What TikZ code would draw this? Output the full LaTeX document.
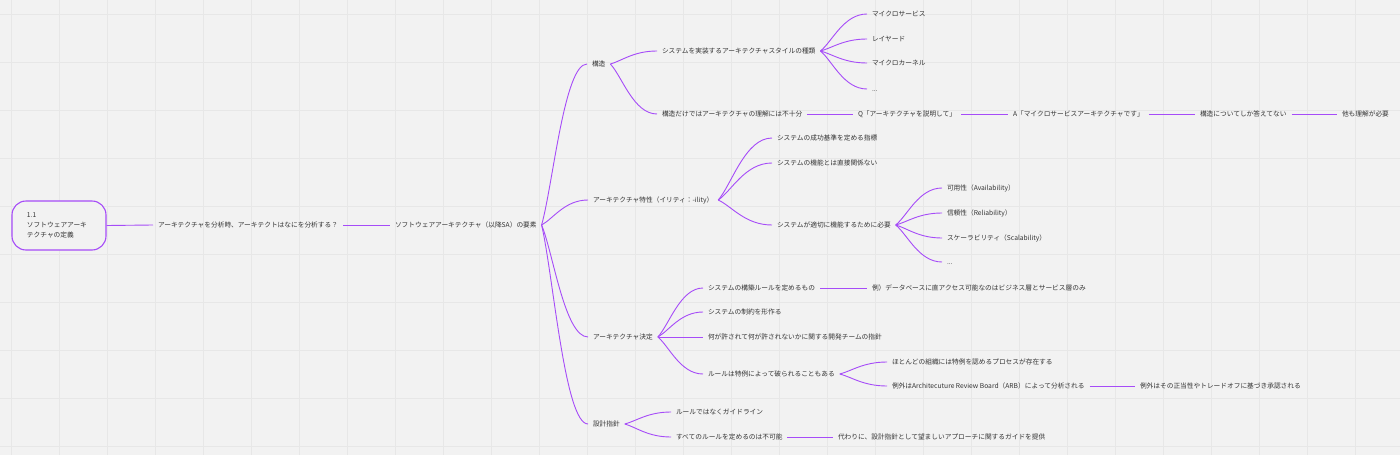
\documentclass[tikz,border=0pt]{standalone}
\usepackage{fontspec}
\setmainfont{Noto Sans CJK JP}
\usetikzlibrary{calc}
\definecolor{bg}{HTML}{F2F2F2}
\definecolor{gridc}{HTML}{E7E7E7}
\definecolor{purp}{HTML}{A64CF8}
\definecolor{txt}{HTML}{333333}
\tikzset{
  lbl/.style={anchor=west, xshift=-5pt, inner sep=0pt, outer xsep=5pt, outer ysep=0pt, text=txt,
    font=\fontsize{6.7}{8}\selectfont, text height=5.6pt, text depth=1.1pt},
  conn/.style={draw=purp, line width=0.9pt},
  curv/.style={to path={.. controls ($(\tikztostart)!0.25!(\tikztotarget)$) and ($(\tikztotarget)!0.5!(\tikztotarget -| \tikztostart)$) .. (\tikztotarget)}},
  rootbox/.style={draw=purp, line width=1.1pt, rounded corners=14pt, fill=bg,
    minimum width=94pt, minimum height=49pt, text width=64pt, align=left,
    inner xsep=15pt, inner ysep=0pt, text=txt, font=\fontsize{6.7}{10}\selectfont}
}
\begin{document}
\begin{tikzpicture}[x=1pt,y=-1pt]
\fill[bg] (0,0) rectangle (1400,455);
\useasboundingbox (0,0) rectangle (1400,455);
\foreach \k in {0,...,29} {\draw[gridc, line width=0.6pt] ({11+48*\k},0) -- ({11+48*\k},455);}
\foreach \k in {0,...,9} {\draw[gridc, line width=0.6pt] (0,{14+48*\k}) -- (1400,{14+48*\k});}

\node[rootbox] (root) at (59,225.5) {1.1\\ソフトウェアアーキ\\テクチャの定義};
\node[lbl] (n1) at (158,225) {アーキテクチャを分析時、アーキテクトはなにを分析する？};
\node[lbl] (n2) at (395,225) {ソフトウェアアーキテクチャ（以降SA）の要素};

\node[lbl] (a) at (592,64) {構造};
\node[lbl] (a1) at (662,51) {システムを実装するアーキテクチャスタイルの種類};
\node[lbl] (a1a) at (872,14) {マイクロサービス};
\node[lbl] (a1b) at (872,39) {レイヤード};
\node[lbl] (a1c) at (872,63) {マイクロカーネル};
\node[lbl] (a1d) at (872,89) {...};
\node[lbl] (a2) at (662,114) {構造だけではアーキテクチャの理解には不十分};
\node[lbl] (a2a) at (858,114) {Q「アーキテクチャを説明して」};
\node[lbl] (a2b) at (1013,114) {A「マイクロサービスアーキテクチャです」};
\node[lbl] (a2c) at (1200,114) {構造についてしか答えてない};
\node[lbl] (a2d) at (1342,114) {他も理解が必要};

\node[lbl] (b) at (593,200) {アーキテクチャ特性（イリティ：-ility）};
\node[lbl] (b1) at (777,138) {システムの成功基準を定める指標};
\node[lbl] (b2) at (777,163) {システムの機能とは直接関係ない};
\node[lbl] (b3) at (777,225) {システムが適切に機能するために必要};
\node[lbl] (b3a) at (947,188) {可用性（Availability）};
\node[lbl] (b3b) at (947,213) {信頼性（Reliability）};
\node[lbl] (b3c) at (947,238) {スケーラビリティ（Scalability）};
\node[lbl] (b3d) at (947,262) {...};

\node[lbl] (c) at (593,337) {アーキテクチャ決定};
\node[lbl] (c1) at (708,288) {システムの構築ルールを定めるもの};
\node[lbl] (c1a) at (872,288) {例）データベースに直アクセス可能なのはビジネス層とサービス層のみ};
\node[lbl] (c2) at (708,312) {システムの制約を形作る};
\node[lbl] (c3) at (708,337) {何が許されて何が許されないかに関する開発チームの指針};
\node[lbl] (c4) at (708,374) {ルールは特例によって破られることもある};
\node[lbl] (c4a) at (892,362) {ほとんどの組織には特例を認めるプロセスが存在する};
\node[lbl] (c4b) at (892,386) {例外はArchitecuture Review Board（ARB）によって分析される};
\node[lbl] (c4b1) at (1140,386) {例外はその正当性やトレードオフに基づき承認される};

\node[lbl] (d) at (593,424) {設計指針};
\node[lbl] (d1) at (676,412) {ルールではなくガイドライン};
\node[lbl] (d2) at (676,437) {すべてのルールを定めるのは不可能};
\node[lbl] (d2a) at (838,437) {代わりに、設計指針として望ましいアプローチに関するガイドを提供};

\draw[conn] (root.east) -- (n1.west);
\draw[conn] (n1.east) -- (n2.west);
\foreach \t in {a,b,c,d} {\draw[conn] (n2.east) to[curv] (\t.west);}
\foreach \t in {a1,a2} {\draw[conn] (a.east) to[curv] (\t.west);}
\foreach \t in {a1a,a1b,a1c,a1d} {\draw[conn] (a1.east) to[curv] (\t.west);}
\draw[conn] (a2.east) -- (a2a.west);
\draw[conn] (a2a.east) -- (a2b.west);
\draw[conn] (a2b.east) -- (a2c.west);
\draw[conn] (a2c.east) -- (a2d.west);
\foreach \t in {b1,b2,b3} {\draw[conn] (b.east) to[curv] (\t.west);}
\foreach \t in {b3a,b3b,b3c,b3d} {\draw[conn] (b3.east) to[curv] (\t.west);}
\foreach \t in {c1,c2,c4} {\draw[conn] (c.east) to[curv] (\t.west);}
\draw[conn] (c.east) -- (c3.west);
\draw[conn] (c1.east) -- (c1a.west);
\foreach \t in {c4a,c4b} {\draw[conn] (c4.east) to[curv] (\t.west);}
\draw[conn] (c4b.east) -- (c4b1.west);
\foreach \t in {d1,d2} {\draw[conn] (d.east) to[curv] (\t.west);}
\draw[conn] (d2.east) -- (d2a.west);
\end{tikzpicture}
\end{document}
